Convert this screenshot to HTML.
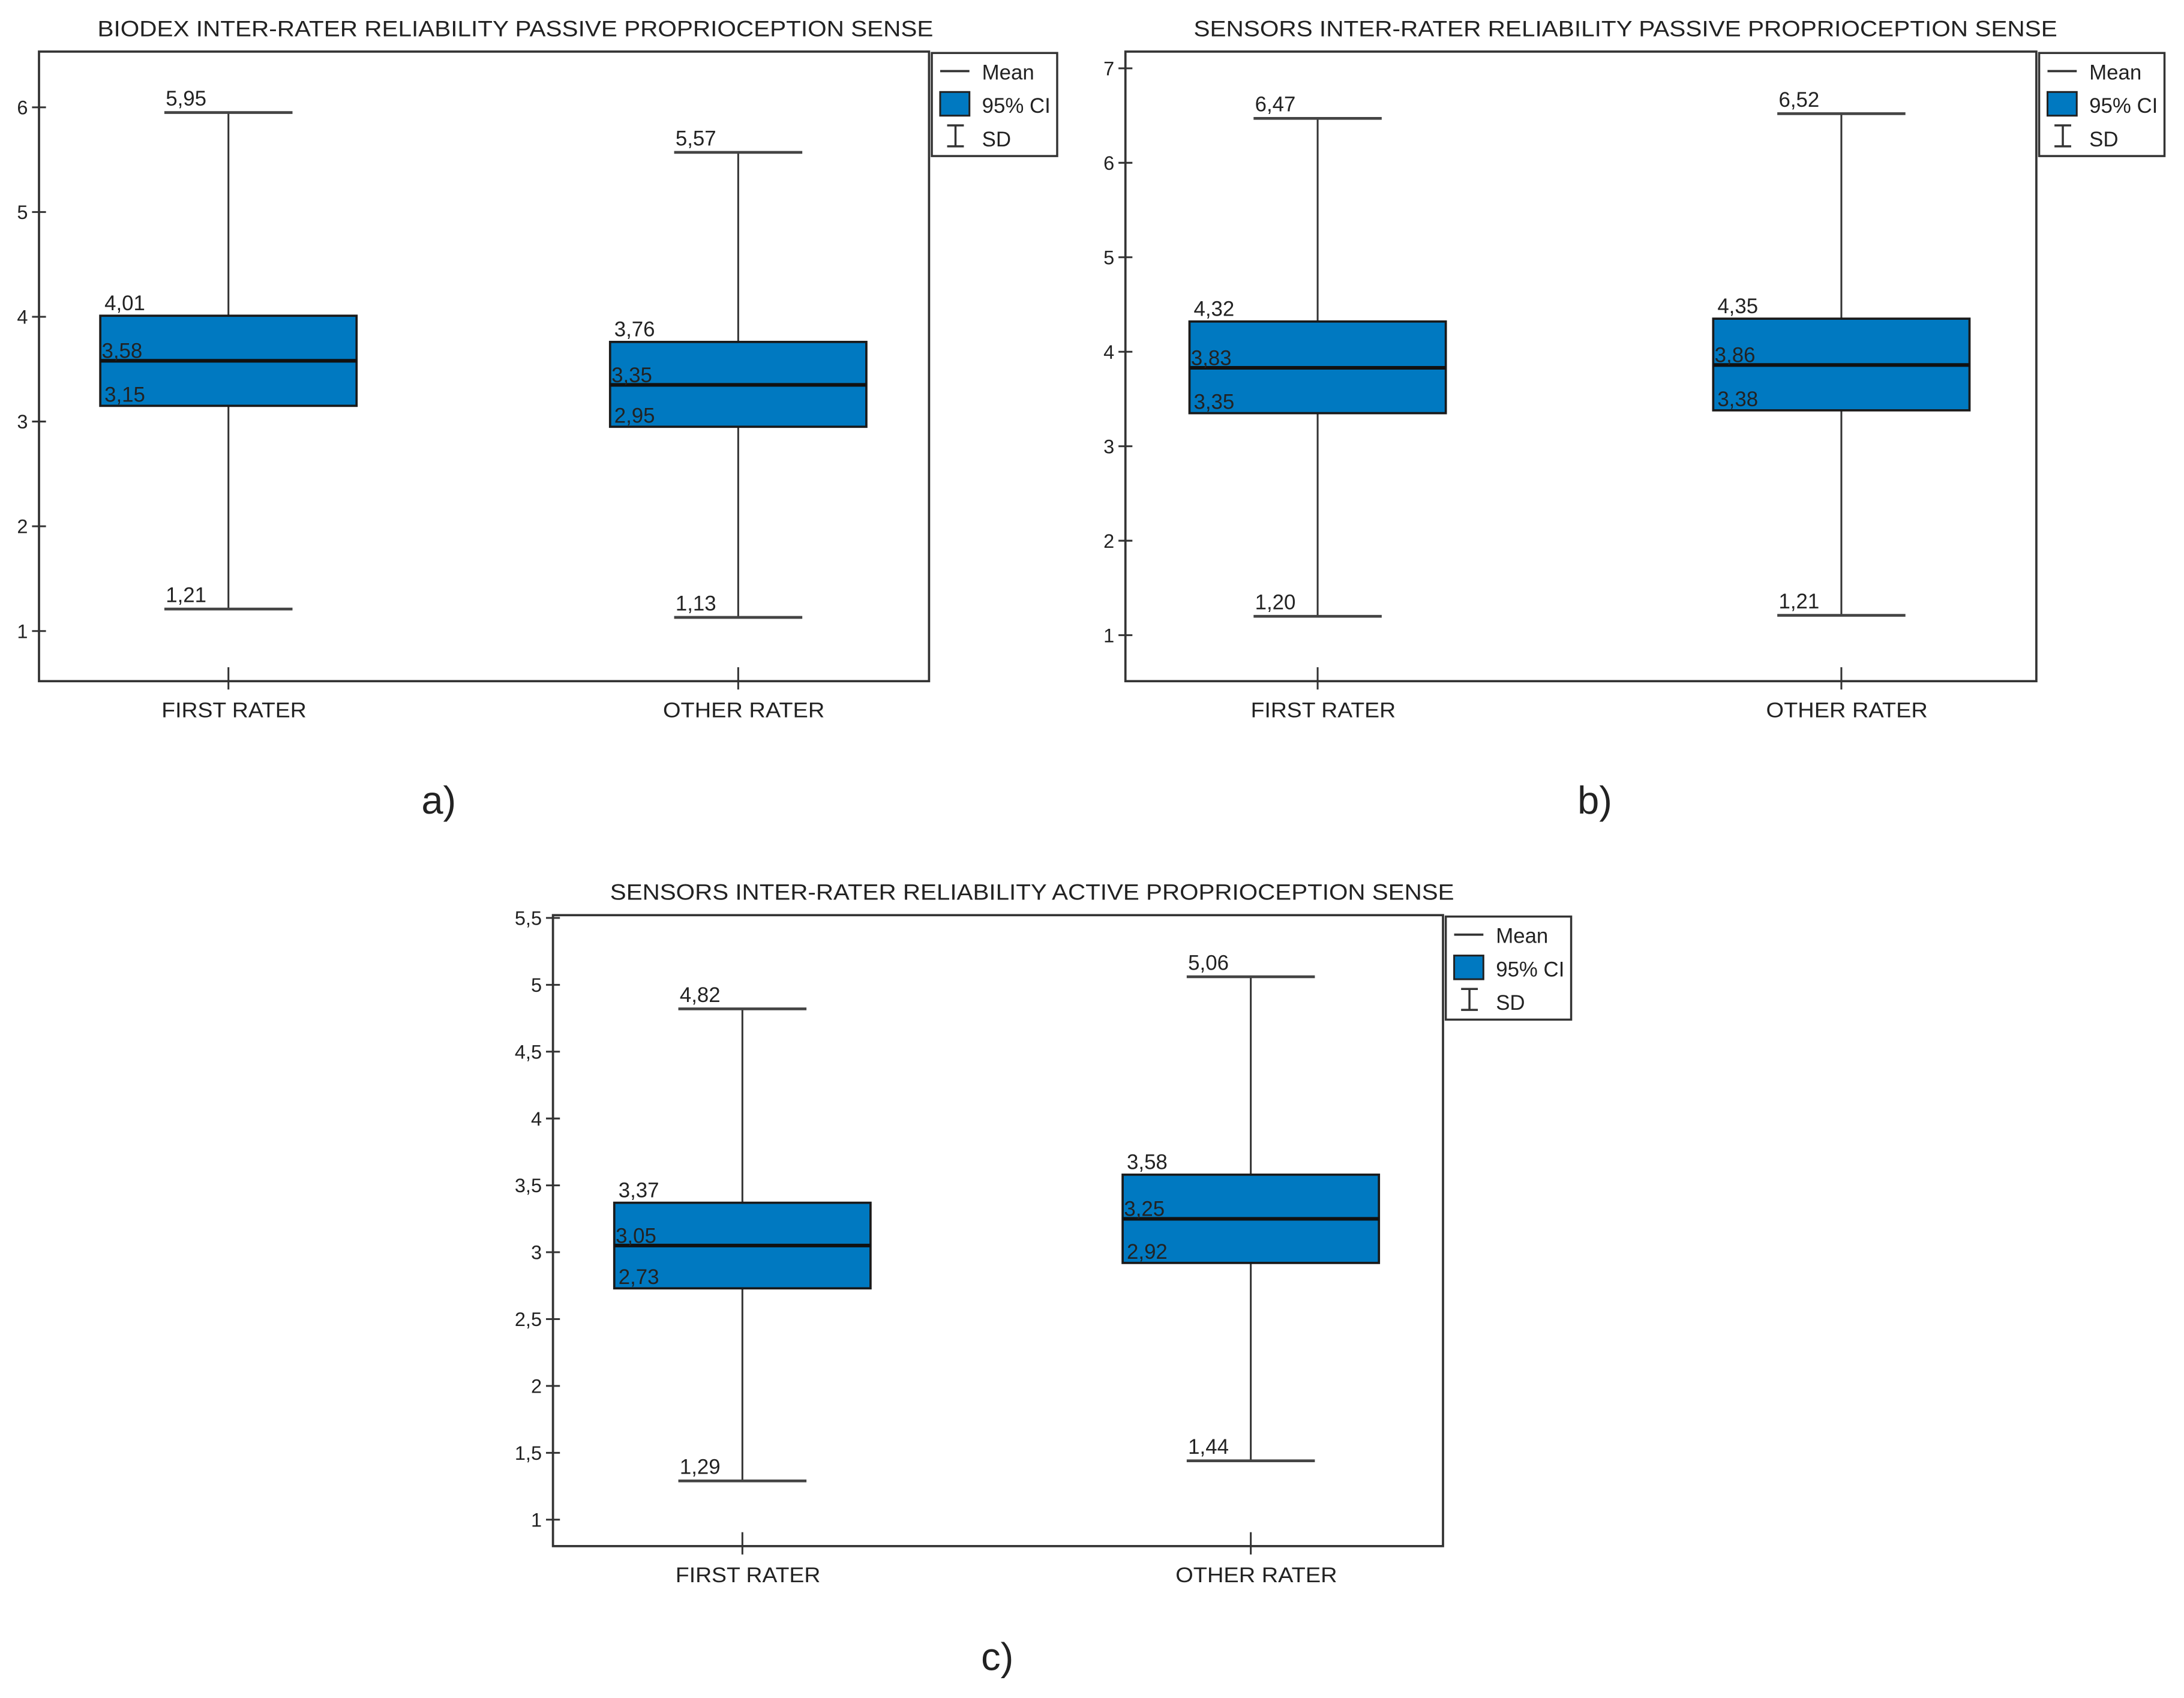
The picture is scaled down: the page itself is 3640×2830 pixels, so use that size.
<!DOCTYPE html>
<html><head><meta charset="utf-8"><style>
html,body{margin:0;padding:0;background:#fff;}
svg{display:block;}
text{font-family:"Liberation Sans",sans-serif;fill:#222;}
</style></head><body>
<svg id="fig" width="3640" height="2830" viewBox="0 0 1568 1219" xmlns="http://www.w3.org/2000/svg"></svg>
<script>
const categories = ["FIRST RATER","OTHER RATER"];
const aSdLow = [1.21,1.13], aCiLow=[3.15,2.95], aMean=[3.58,3.35], aCiHigh=[4.01,3.76], aSdHigh=[5.95,5.57];
const bSdLow = [1.20,1.21], bCiLow=[3.35,3.38], bMean=[3.83,3.86], bCiHigh=[4.32,4.35], bSdHigh=[6.47,6.52];
const cSdLow = [1.29,1.44], cCiLow=[2.73,2.92], cMean=[3.05,3.25], cCiHigh=[3.37,3.58], cSdHigh=[4.82,5.06];
const aTicks=[1,2,3,4,5,6], bTicks=[1,2,3,4,5,6,7], cTicks=[1,1.5,2,2.5,3,3.5,4,4.5,5,5.5];
const aTitle="BIODEX INTER-RATER RELIABILITY PASSIVE PROPRIOCEPTION SENSE";
const bTitle="SENSORS INTER-RATER RELIABILITY PASSIVE PROPRIOCEPTION SENSE";
const cTitle="SENSORS INTER-RATER RELIABILITY ACTIVE PROPRIOCEPTION SENSE";
const fmt=v=>v.toFixed(2).replace('.',',');
const svg=document.getElementById('fig');
const NS="http://www.w3.org/2000/svg";
function el(tag,attrs,parent,txt){const e=document.createElementNS(NS,tag);for(const k in attrs)e.setAttribute(k,attrs[k]);if(txt!==undefined)e.textContent=txt;(parent||svg).appendChild(e);return e;}
function fmtTick(v){return String(v).replace('.',',');}
function panel(id,cfg,d){
  const g=el('g',{});
  
  
  // y axis function: maps v1->y1, v2->y2
  const y=v=>cfg.y1+(v-cfg.v1)*(cfg.y2-cfg.y1)/(cfg.v2-cfg.v1);
  const t=el('text',{x:cfg.titleX,y:cfg.titleY,'font-size':16,'text-anchor':'middle',textLength:cfg.titleW,lengthAdjust:'spacingAndGlyphs'},g,d.title);
  
  const fr=el('rect',{x:cfg.x0,y:cfg.top,width:cfg.x1-cfg.x0,height:cfg.bot-cfg.top,fill:'none',stroke:'#333','stroke-width':1.6},g);
  
  d.ticks.forEach(v=>{
    const yy=y(v);
    el('line',{x1:cfg.x0-5,x2:cfg.x0+5,y1:yy,y2:yy,stroke:'#333','stroke-width':1.3},g);
    const tl=el('text',{x:cfg.x0-8,y:yy+5,'font-size':14,'text-anchor':'end'},g,fmtTick(v));
    
  });
  cfg.cx.forEach((cx,i)=>{
    el('line',{x1:cx,x2:cx,y1:cfg.bot-10,y2:cfg.bot+6,stroke:'#333','stroke-width':1.3},g);
    const xl=el('text',{x:cx+4,y:cfg.bot+26,'font-size':15,'text-anchor':'middle',textLength:cfg.catW[i],lengthAdjust:'spacingAndGlyphs'},g,categories[i]);
    
    const hw=92, cw=46;
    const wh=el('line',{x1:cx,x2:cx,y1:y(d.sdH[i]),y2:y(d.sdL[i]),stroke:'#333','stroke-width':1.3},g);
    
    [d.sdH[i],d.sdL[i]].forEach(v=>{
      const c=el('line',{x1:cx-cw,x2:cx+cw,y1:y(v),y2:y(v),stroke:'#444','stroke-width':2},g);
      
      const lt=el('text',{x:cx-cw+1,y:y(v)-5,'font-size':15},g,fmt(v));
      
    });
    const b=el('rect',{x:cx-hw,y:y(d.ciH[i]),width:2*hw,height:y(d.ciL[i])-y(d.ciH[i]),fill:'#0079c1',stroke:'#1a1a1a','stroke-width':1.6},g);
    
    const m=el('line',{x1:cx-hw,x2:cx+hw,y1:y(d.mean[i]),y2:y(d.mean[i]),stroke:'#111','stroke-width':2.6},g);
    
    const l1=el('text',{x:cx-hw+3,y:y(d.ciH[i])-4,'font-size':15},g,fmt(d.ciH[i]));
    
    const l2=el('text',{x:cx-hw+1,y:y(d.mean[i])-2,'font-size':15},g,fmt(d.mean[i]));
    
    const l3=el('text',{x:cx-hw+3,y:y(d.ciL[i])-3,'font-size':15},g,fmt(d.ciL[i]));
    
  });
  // legend
  const lx=cfg.x1+2, ly=cfg.top+1;
  const lg=el('g',{},g);
  
  el('rect',{x:lx,y:ly,width:90,height:74,fill:'#fff',stroke:'#333','stroke-width':1.5},lg);
  el('line',{x1:lx+6,x2:lx+27,y1:ly+13,y2:ly+13,stroke:'#333','stroke-width':1.6},lg);
  el('text',{x:lx+36,y:ly+19,'font-size':15},lg,'Mean');
  el('rect',{x:lx+6,y:ly+28,width:21,height:17,fill:'#0079c1',stroke:'#222','stroke-width':1.3},lg);
  el('text',{x:lx+36,y:ly+43,'font-size':15},lg,'95% CI');
  el('line',{x1:lx+11,x2:lx+23,y1:ly+52,y2:ly+52,stroke:'#333','stroke-width':1.5},lg);
  el('line',{x1:lx+17,x2:lx+17,y1:ly+52,y2:ly+67,stroke:'#333','stroke-width':1.5},lg);
  el('line',{x1:lx+11,x2:lx+23,y1:ly+67,y2:ly+67,stroke:'#333','stroke-width':1.5},lg);
  el('text',{x:lx+36,y:ly+67,'font-size':15},lg,'SD');
  const pl=el('text',{x:cfg.labX,y:cfg.labY,'font-size':28,'text-anchor':'middle'},g,cfg.lab);
  
}
panel('panel-a',{x0:28,x1:667,top:37,bot:489,v1:1,y1:453,v2:6,y2:77,cx:[164,530],titleX:370,titleY:26,titleW:600,catW:[104,116],labX:315,labY:584,lab:'a)'},
 {title:aTitle,ticks:aTicks,sdL:aSdLow,ciL:aCiLow,mean:aMean,ciH:aCiHigh,sdH:aSdHigh});
panel('panel-b',{x0:808,x1:1462,top:37,bot:489,v1:1,y1:456,v2:7,y2:49,cx:[946,1322],titleX:1167,titleY:26,titleW:620,catW:[104,116],labX:1145,labY:584,lab:'b)'},
 {title:bTitle,ticks:bTicks,sdL:bSdLow,ciL:bCiLow,mean:bMean,ciH:bCiHigh,sdH:bSdHigh});
panel('panel-c',{x0:397,x1:1036,top:657,bot:1110,v1:1,y1:1091,v2:5.5,y2:659,cx:[533,898],titleX:741,titleY:646,titleW:606,catW:[104,116],labX:716,labY:1199,lab:'c)'},
 {title:cTitle,ticks:cTicks,sdL:cSdLow,ciL:cCiLow,mean:cMean,ciH:cCiHigh,sdH:cSdHigh});
</script>
</body></html>
